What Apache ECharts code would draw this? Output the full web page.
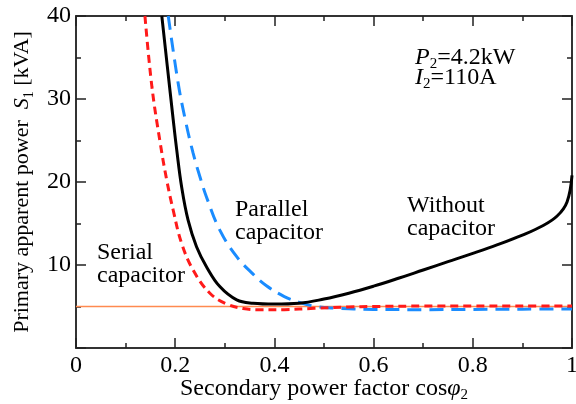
<!DOCTYPE html>
<html>
<head>
<meta charset="utf-8">
<script src="https://cdn.jsdelivr.net/npm/echarts@6/dist/echarts.min.js"></script>
<style>html,body{margin:0;padding:0;background:#fff}#c{width:576px;height:404px}</style>
</head>
<body>
<div id="c"></div>
<script>
// ---- data (x = secondary power factor, y = S1 [kVA]) ----
const xTicks = [0, 0.2, 0.4, 0.6, 0.8, 1];
const yTicks = [10, 20, 30, 40];
const withoutCapacitor = [
  [0.173,40],[0.184,34],[0.196,27.5],[0.203,23.9],[0.213,19.4],[0.226,15.4],[0.243,12.2],[0.263,9.8],
  [0.29,7.4],[0.324,5.8],[0.357,5.4],[0.40,5.3],[0.45,5.4],[0.5,5.9],[0.55,6.6],[0.6,7.45],[0.65,8.4],
  [0.7,9.4],[0.75,10.4],[0.8,11.4],[0.85,12.45],[0.9,13.6],[0.94,14.7],[0.97,15.9],[0.99,17.6],[1.0,20.8]
];
const serialCapacitor = [
  [0.139,40],[0.153,31.5],[0.169,25.0],[0.183,20.2],[0.196,16.6],[0.213,12.6],[0.237,9.3],[0.27,6.6],
  [0.304,5.3],[0.337,4.75],[0.37,4.6],[0.42,4.62],[0.48,4.78],[0.55,4.95],[0.6,5.0],[0.7,5.05],
  [0.8,5.05],[0.9,5.05],[1.0,5.05]
];
const parallelCapacitor = [
  [0.186,40],[0.206,31.9],[0.22,27.6],[0.236,23.5],[0.25,20.6],[0.263,18.2],[0.29,14.2],[0.324,11.0],
  [0.357,8.9],[0.384,7.5],[0.42,6.2],[0.45,5.5],[0.48,5.05],[0.52,4.8],[0.56,4.7],[0.6,4.65],
  [0.7,4.62],[0.8,4.65],[0.9,4.68],[1.0,4.7]
];
const minimumLevel = [[0,5.0],[1,5.0]];

const FF = "'Liberation Serif','Times New Roman',serif";
const subRich = {
  i: {fontFamily: FF, fontSize: 24, fontStyle: 'italic', color: '#000', lineHeight: 28},
  s: {fontFamily: FF, fontSize: 15, color: '#000', verticalAlign: 'bottom', lineHeight: 15},
  n: {fontFamily: FF, fontSize: 24, color: '#000', lineHeight: 28}
};

const axisLineStyle = {color: '#333', width: 2};
function xAx(pos, withLabels) {
  return {
    type: 'value', min: 0, max: 1, interval: 0.2, position: pos,
    axisLine: {show: true, onZero: false, lineStyle: axisLineStyle},
    axisTick: {show: true, inside: true, length: 10, lineStyle: {color: '#222', width: 1.5}},
    minorTick: {show: true, splitNumber: 2, length: 5, lineStyle: {color: '#222', width: 1.5}},
    splitLine: {show: false}, minorSplitLine: {show: false},
    axisLabel: {show: withLabels, fontFamily: FF, fontSize: 24, color: '#000', margin: 6,
      formatter: v => xTicks.includes(+v.toFixed(2)) ? String(+v.toFixed(2)) : ''}
  };
}
function yAx(pos, withLabels) {
  return {
    type: 'value', min: 0, max: 40, interval: 10, position: pos,
    axisLine: {show: true, onZero: false, lineStyle: axisLineStyle},
    axisTick: {show: true, inside: true, length: 10, lineStyle: {color: '#222', width: 1.5}},
    minorTick: {show: true, splitNumber: 2, length: 5, lineStyle: {color: '#222', width: 1.5}},
    splitLine: {show: false}, minorSplitLine: {show: false},
    axisLabel: {show: withLabels, fontFamily: FF, fontSize: 24, color: '#000', margin: 5,
      formatter: v => yTicks.includes(v) ? String(v) : ''}
  };
}

const xMain = xAx('bottom', true);
xMain.name = '{n|Secondary power factor cos}{i|φ}{s|2}';
xMain.nameLocation = 'middle';
xMain.nameGap = 27;
xMain.nameMoveOverlap = false;
xMain.nameTextStyle = {fontFamily: FF, fontSize: 24, color: '#000', rich: subRich};
const xTop = xAx('top', false);

const yMain = yAx('left', true);
yMain.name = '{n|Primary apparent power  }{i|S}{s|1}{n| [kVA]}';
yMain.nameLocation = 'middle';
yMain.nameGap = 40;
yMain.nameMoveOverlap = false;
yMain.nameTextStyle = {fontFamily: FF, fontSize: 22, color: '#000',
  rich: {i: {...subRich.i, fontSize: 22}, s: {...subRich.s, fontSize: 14}, n: {...subRich.n, fontSize: 22}}};
const yRight = yAx('right', false);

function lineSeries(data, color, type, width) {
  return {type: 'line', data, xAxisIndex: 0, yAxisIndex: 0, showSymbol: false, symbol: 'none',
    smooth: 0.4, clip: true, silent: true,
    lineStyle: {color, width, type}};
}

const chart = echarts.init(document.getElementById('c'), null, {renderer: 'canvas'});
chart.setOption({
  animation: false,
  backgroundColor: '#fff',
  grid: {left: 76, right: 4, top: 16, bottom: 56, containLabel: false, outerBoundsMode: 'none'},
  xAxis: [xMain, xTop],
  yAxis: [yMain, yRight],
  series: [
    {type: 'line', data: minimumLevel, showSymbol: false, symbol: 'none', silent: true,
      lineStyle: {color: '#ff8a50', width: 1.5}},
    lineSeries(parallelCapacitor, '#1a8cff', [14, 8], 3),
    lineSeries(serialCapacitor, '#ff1a1a', [8, 5], 3),
    lineSeries(withoutCapacitor, '#000', 'solid', 3)
  ],
  graphic: [
    {type: 'text', left: 97, top: 241, style: {text: 'Serial\ncapacitor', fontFamily: FF, fontSize: 24, lineHeight: 23, fill: '#000'}},
    {type: 'text', left: 235, top: 198, style: {text: 'Parallel\ncapacitor', fontFamily: FF, fontSize: 24, lineHeight: 23, fill: '#000'}},
    {type: 'text', left: 407, top: 194, style: {text: 'Without\ncapacitor', fontFamily: FF, fontSize: 24, lineHeight: 23, fill: '#000'}},
    {type: 'text', left: 415, top: 46, style: {text: '{i|P}{s|2}{n|=4.2kW}', rich: subRich}},
    {type: 'text', left: 415, top: 66, style: {text: '{i|I}{s|2}{n|=110A}', rich: subRich}}
  ]
});
</script>
</body>
</html>
